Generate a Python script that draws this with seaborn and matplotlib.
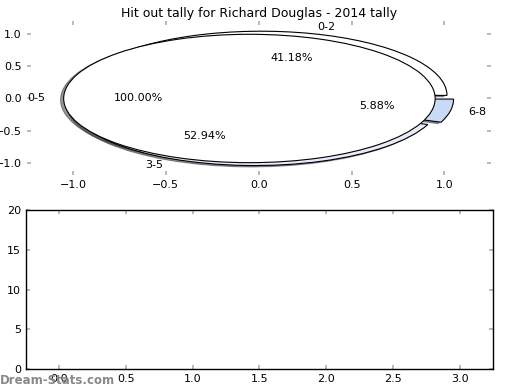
import matplotlib
matplotlib.use('Agg')
import matplotlib.pyplot as plt
import seaborn as sns

# Hit out tally data
all_labels = ['0-5']
all_counts = [17]
range_labels = ['0-2', '3-5', '6-8']
range_counts = [7, 9, 1]
range_colors = ['white', '#e8ebfa', '#c8daf8']

bar_ticks = [0.0, 0.5, 1.0, 1.5, 2.0, 2.5, 3.0]

sns.set_theme(style='white', rc={
    'xtick.direction': 'in', 'ytick.direction': 'in',
    'xtick.color': '#b0b0b0', 'ytick.color': '#b0b0b0',
    'xtick.labelcolor': 'black', 'ytick.labelcolor': 'black',
    'xtick.major.size': 3, 'ytick.major.size': 3,
    'xtick.top': True, 'ytick.right': True,
    'xtick.bottom': True, 'ytick.left': True,
    'xtick.labelsize': 8, 'ytick.labelsize': 8,
    'axes.edgecolor': 'black', 'axes.linewidth': 1.0,
    'text.color': 'black', 'axes.titlecolor': 'black',
})
plt.rcParams['font.family'] = ['DejaVu Sans']
plt.rcParams['font.size'] = 8

fig = plt.figure(figsize=(5.2, 3.9), dpi=100)
ax1 = fig.add_axes([0.051, 0.55, 0.893, 0.395])
ax2 = fig.add_axes([0.05, 0.054, 0.898, 0.407])

shadow = {'ox': -0.012, 'oy': -0.015, 'shade': 0.8}

# breakdown pie first, total pie drawn on top
ax1.pie(range_counts, labels=range_labels, colors=range_colors,
        explode=[0.05] * len(range_counts), autopct='%.2f%%', shadow=shadow,
        startangle=0, frame=True, textprops={'fontsize': 8, 'color': 'black'},
        wedgeprops={'edgecolor': 'black', 'linewidth': 0.8})
ax1.pie(all_counts, labels=all_labels, colors=['white'],
        explode=[0.05], autopct='%.2f%%', shadow=shadow,
        startangle=0, frame=True, textprops={'fontsize': 8, 'color': 'black'},
        wedgeprops={'edgecolor': 'black', 'linewidth': 0.8})
ax1.set_aspect('auto')
ax1.set_xlim(-1.25, 1.25)
ax1.set_ylim(-1.2, 1.2)
ax1.set_xticks([-1.0, -0.5, 0.0, 0.5, 1.0])
ax1.set_yticks([-1.0, -0.5, 0.0, 0.5, 1.0])
for sp in ax1.spines.values():
    sp.set_visible(False)
ax1.set_title('Hit out tally for Richard Douglas - 2014 tally', fontsize=9, pad=3)

ax2.set_xlim(-0.25, 3.25)
ax2.set_ylim(0, 20)
ax2.set_xticks(bar_ticks)
ax2.set_yticks([0, 5, 10, 15, 20])

fig.text(0.0, 0.025, 'Dream-Stats.com', color='#888888', fontsize=8.5,
         fontweight='bold', ha='left', va='center')

plt.savefig('out.png', dpi=100)
